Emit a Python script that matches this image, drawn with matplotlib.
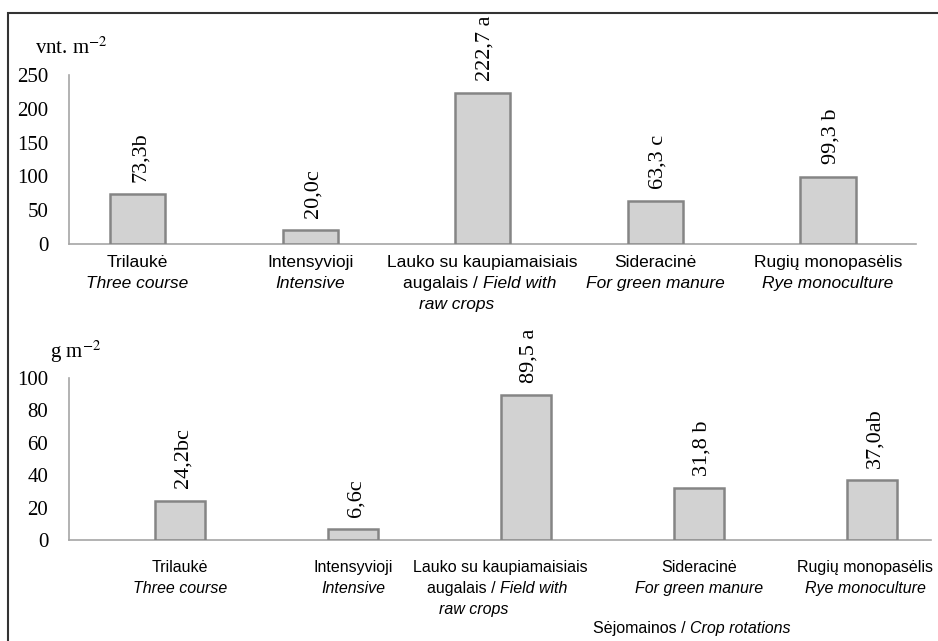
import matplotlib
matplotlib.use("Agg")
import matplotlib.pyplot as plt
import matplotlib.transforms as mtransforms
from matplotlib.patches import Rectangle
import numpy as np

# Crop rotations (Lithuanian upright line, English italic line)
ROTATIONS_LT = ["Trilaukė", "Intensyvioji", "Lauko su kaupiamaisiais\naugalais / ",
                "Sideracinė", "Rugių monopasėlis"]
ROTATIONS_EN = ["Three course", "Intensive", "Field with\nraw crops",
                "For green manure", "Rye monoculture"]

# Upper panel: number, vnt. m-2
COUNT_VALUES = [73.3, 20.0, 222.7, 63.3, 99.3]
COUNT_LABELS = ["73,3b", "20,0c", "222,7 a", "63,3 c", "99,3 b"]

# Lower panel: mass, g m-2
MASS_VALUES = [24.2, 6.6, 89.5, 31.8, 37.0]
MASS_LABELS = ["24,2bc", "6,6c", "89,5 a", "31,8 b", "37,0ab"]

SERIF = "Liberation Serif"
SANS = "Liberation Sans"
BAR_FACE = "#d2d2d2"
BAR_EDGE = "#858585"
AXIS_GREY = "#a6a6a6"

plt.rcParams["mathtext.fontset"] = "stix"

fig = plt.figure(figsize=(9.38, 6.41), dpi=100)
W, H = 938, 641


def px_axes(left, top, right, bottom):
    return fig.add_axes([left / W, 1 - bottom / H, (right - left) / W, (bottom - top) / H])


def style_axes(ax, ymax, step):
    for s in ("top", "right"):
        ax.spines[s].set_visible(False)
    for s in ("left", "bottom"):
        ax.spines[s].set_color(AXIS_GREY)
        ax.spines[s].set_linewidth(1.2)
    ax.set_ylim(0, ymax)
    ax.set_yticks(np.arange(0, ymax + 1, step))
    ax.set_xticks([])
    ax.tick_params(axis="y", length=0, pad=15, labelsize=15)
    for t in ax.get_yticklabels():
        t.set_fontfamily(SERIF)


def draw_bars(ax, values, labels, width):
    x = np.arange(len(values))
    ax.bar(x, values, width, color=BAR_FACE, edgecolor=BAR_EDGE, linewidth=1.8, zorder=3)
    for xi, v, lbl in zip(x, values, labels):
        ax.annotate(lbl, (xi, v), xytext=(2, 9), textcoords="offset points",
                    rotation=90, ha="center", va="bottom", fontsize=16,
                    family=SERIF, annotation_clip=False)
    return x


def draw_categories(ax, x, y0, dy, size, shift=None):
    trans = mtransforms.blended_transform_factory(ax.transData, ax.transAxes)
    shift = shift or [0] * len(x)
    for xi, sh, lt, en in zip(x, shift, ROTATIONS_LT, ROTATIONS_EN):
        xi = xi + sh
        if lt.endswith("/ "):
            # mixed upright / italic wrapped label
            first, second = lt.split("\n")
            ax.text(xi, y0, first, transform=trans, ha="center", va="center",
                    fontsize=size, family=SANS)
            ax.text(xi, y0 - dy, second, transform=trans, ha="right", va="center",
                    fontsize=size, family=SANS)
            en1, en2 = en.split("\n")
            ax.text(xi, y0 - dy, en1, transform=trans, ha="left", va="center",
                    fontsize=size, family=SANS, style="italic")
            ax.text(xi - 0.15, y0 - 2 * dy, en2, transform=trans, ha="center", va="center",
                    fontsize=size, family=SANS, style="italic")
        else:
            ax.text(xi, y0, lt, transform=trans, ha="center", va="center",
                    fontsize=size, family=SANS)
            ax.text(xi, y0 - dy, en, transform=trans, ha="center", va="center",
                    fontsize=size, family=SANS, style="italic")


# upper panel
ax1 = px_axes(69, 75, 916, 244)
style_axes(ax1, 250, 50)
x1 = draw_bars(ax1, COUNT_VALUES, COUNT_LABELS, 0.32)
ax1.set_xlim(-0.397, 4.51)
draw_categories(ax1, x1, -0.11, 0.125, 12.5)
fig.text(35 / W, 1 - 48 / H, r"vnt. m$^{-2}$", fontsize=15, family=SERIF, va="center")

# lower panel
ax2 = px_axes(69, 378, 931, 540)
style_axes(ax2, 100, 20)
x2 = draw_bars(ax2, MASS_VALUES, MASS_LABELS, 0.29)
ax2.set_xlim(-0.64, 4.34)
draw_categories(ax2, x2, -0.17, 0.13, 11.5, shift=[0, 0, -0.15, 0, -0.04])
fig.text(50 / W, 1 - 352 / H, r"g m$^{-2}$", fontsize=15, family=SERIF, va="center")
fig.text(690 / W, 1 - 628 / H, "Sėjomainos / ", fontsize=11.5, family=SANS,
         ha="right", va="center")
fig.text(690 / W, 1 - 628 / H, "Crop rotations", fontsize=11.5, family=SANS,
         ha="left", va="center", style="italic")

# frame around the whole figure
fig.patches.append(Rectangle((8 / W, -0.05), 1.0, (641 - 13) / H + 0.05,
                             transform=fig.transFigure, fill=False,
                             edgecolor="#333333", linewidth=1.5))

fig.savefig("out.png", dpi=100)
